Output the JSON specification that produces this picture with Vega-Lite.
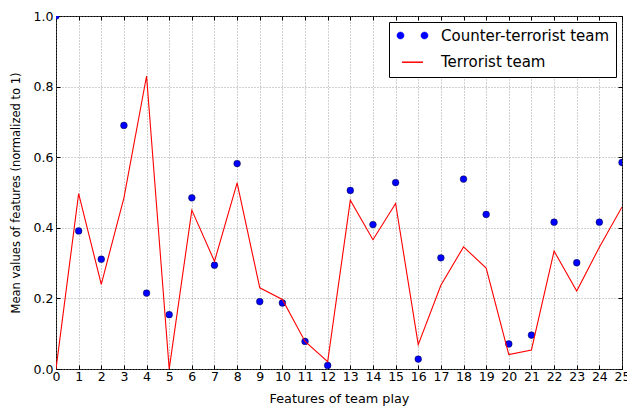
{
  "$schema": "https://vega.github.io/schema/vega-lite/v6.json",
  "autosize": "none",
  "width": 566,
  "height": 353,
  "padding": {"left": 56, "top": 16, "right": 5, "bottom": 37},
  "background": "white",
  "config": {
    "font": "DejaVu Sans",
    "view": {"stroke": "black", "strokeWidth": 1},
    "axis": {"domain": false, "labelColor": "black", "titleColor": "black", "titleFontWeight": "normal"},
    "legend": {
      "title": null, "orient": "top-right", "offset": 6,
      "strokeColor": "black", "fillColor": "white", "cornerRadius": 0,
      "padding": 6, "symbolSize": 144, "symbolOffset": 10, "labelOffset": 21,
      "labelFontSize": 15, "labelColor": "black", "rowPadding": 10.7, "labelLimit": 400,
      "labelExpr": "datum.label + '\u00a0\u00a0'"
    }
  },
  "data": {
    "values": [
      {"x": 0, "value": 1.0, "team": "Counter-terrorist team"},
      {"x": 1, "value": 0.391, "team": "Counter-terrorist team"},
      {"x": 2, "value": 0.311, "team": "Counter-terrorist team"},
      {"x": 3, "value": 0.690, "team": "Counter-terrorist team"},
      {"x": 4, "value": 0.215, "team": "Counter-terrorist team"},
      {"x": 5, "value": 0.154, "team": "Counter-terrorist team"},
      {"x": 6, "value": 0.485, "team": "Counter-terrorist team"},
      {"x": 7, "value": 0.294, "team": "Counter-terrorist team"},
      {"x": 8, "value": 0.582, "team": "Counter-terrorist team"},
      {"x": 9, "value": 0.191, "team": "Counter-terrorist team"},
      {"x": 10, "value": 0.187, "team": "Counter-terrorist team"},
      {"x": 11, "value": 0.078, "team": "Counter-terrorist team"},
      {"x": 12, "value": 0.010, "team": "Counter-terrorist team"},
      {"x": 13, "value": 0.506, "team": "Counter-terrorist team"},
      {"x": 14, "value": 0.409, "team": "Counter-terrorist team"},
      {"x": 15, "value": 0.528, "team": "Counter-terrorist team"},
      {"x": 16, "value": 0.028, "team": "Counter-terrorist team"},
      {"x": 17, "value": 0.315, "team": "Counter-terrorist team"},
      {"x": 18, "value": 0.538, "team": "Counter-terrorist team"},
      {"x": 19, "value": 0.438, "team": "Counter-terrorist team"},
      {"x": 20, "value": 0.071, "team": "Counter-terrorist team"},
      {"x": 21, "value": 0.096, "team": "Counter-terrorist team"},
      {"x": 22, "value": 0.416, "team": "Counter-terrorist team"},
      {"x": 23, "value": 0.301, "team": "Counter-terrorist team"},
      {"x": 24, "value": 0.416, "team": "Counter-terrorist team"},
      {"x": 25, "value": 0.585, "team": "Counter-terrorist team"},
      {"x": 0, "value": 0.0, "team": "Terrorist team"},
      {"x": 1, "value": 0.497, "team": "Terrorist team"},
      {"x": 2, "value": 0.240, "team": "Terrorist team"},
      {"x": 3, "value": 0.485, "team": "Terrorist team"},
      {"x": 4, "value": 0.830, "team": "Terrorist team"},
      {"x": 5, "value": 0.0, "team": "Terrorist team"},
      {"x": 6, "value": 0.450, "team": "Terrorist team"},
      {"x": 7, "value": 0.305, "team": "Terrorist team"},
      {"x": 8, "value": 0.527, "team": "Terrorist team"},
      {"x": 9, "value": 0.230, "team": "Terrorist team"},
      {"x": 10, "value": 0.197, "team": "Terrorist team"},
      {"x": 11, "value": 0.078, "team": "Terrorist team"},
      {"x": 12, "value": 0.021, "team": "Terrorist team"},
      {"x": 13, "value": 0.478, "team": "Terrorist team"},
      {"x": 14, "value": 0.366, "team": "Terrorist team"},
      {"x": 15, "value": 0.469, "team": "Terrorist team"},
      {"x": 16, "value": 0.069, "team": "Terrorist team"},
      {"x": 17, "value": 0.237, "team": "Terrorist team"},
      {"x": 18, "value": 0.346, "team": "Terrorist team"},
      {"x": 19, "value": 0.286, "team": "Terrorist team"},
      {"x": 20, "value": 0.041, "team": "Terrorist team"},
      {"x": 21, "value": 0.054, "team": "Terrorist team"},
      {"x": 22, "value": 0.334, "team": "Terrorist team"},
      {"x": 23, "value": 0.221, "team": "Terrorist team"},
      {"x": 24, "value": 0.345, "team": "Terrorist team"},
      {"x": 25, "value": 0.459, "team": "Terrorist team"}
    ]
  },
  "resolve": {"axis": {"x": "independent", "y": "independent"}},
  "layer": [
    {
      "transform": [{"filter": "datum.team === 'Counter-terrorist team'"}],
      "mark": {"type": "point", "filled": true, "size": 46, "clip": true, "opacity": 1, "stroke": "black", "strokeWidth": 0.4},
      "encoding": {
        "x": {
          "field": "x", "type": "quantitative",
          "scale": {"domain": [0, 25], "nice": false, "zero": false},
          "axis": {
            "orient": "bottom", "title": "Features of team play", "values": [0,1,2,3,4,5,6,7,8,9,10,11,12,13,14,15,16,17,18,19,20,21,22,23,24,25],
            "format": "d", "labelFontSize": 12.5, "labelPadding": 5, "tickSize": -4, "tickColor": "black",
            "grid": true, "gridColor": "#888888", "gridDash": [1, 2], "gridWidth": 0.8,
            "titleFontSize": 12.8, "titlePadding": 10, "labelFlush": false
          }
        },
        "y": {
          "field": "value", "type": "quantitative",
          "scale": {"domain": [0, 1], "nice": false},
          "axis": {
            "orient": "left", "title": "Mean values of features (normalized to 1)", "values": [0, 0.2, 0.4, 0.6, 0.8, 1.0],
            "format": ".1f", "labelFontSize": 12.5, "labelPadding": 7, "tickSize": -4, "tickColor": "black",
            "grid": true, "gridColor": "#888888", "gridDash": [1, 2], "gridWidth": 0.8,
            "titleFontSize": 11.5, "titlePadding": 12, "labelFlush": false
          }
        },
        "color": {
          "field": "team", "type": "nominal",
          "scale": {"domain": ["Counter-terrorist team", "Terrorist team"], "range": ["#0000ff", "#ff0000"]},
          "legend": {
            "encode": {
              "symbols": {
                "update": {
                  "shape": {"signal": "datum.value === 'Terrorist team' ? 'M-1.75,0L1.75,0' : 'M-2.6,0A0.6,0.6,0,1,0,-1.4,0A0.6,0.6,0,1,0,-2.6,0Z M1.4,0A0.6,0.6,0,1,0,2.6,0A0.6,0.6,0,1,0,1.4,0Z'"},
                  "fill": {"signal": "datum.value === 'Terrorist team' ? 'transparent' : '#0000ff'"},
                  "stroke": {"signal": "datum.value === 'Terrorist team' ? '#ff0000' : 'black'"},
                  "strokeWidth": {"signal": "datum.value === 'Terrorist team' ? 1.5 : 0.4"},
                  "opacity": {"value": 1}
                }
              }
            }
          }
        }
      }
    },
    {
      "transform": [{"filter": "datum.team === 'Terrorist team'"}],
      "mark": {"type": "line", "strokeWidth": 1.1, "clip": true},
      "encoding": {
        "x": {
          "field": "x", "type": "quantitative",
          "scale": {"domain": [0, 25], "nice": false, "zero": false},
          "axis": {"orient": "top", "title": null, "labels": false, "values": [0,1,2,3,4,5,6,7,8,9,10,11,12,13,14,15,16,17,18,19,20,21,22,23,24,25], "tickSize": -4, "tickColor": "black", "grid": false}
        },
        "y": {
          "field": "value", "type": "quantitative",
          "scale": {"domain": [0, 1], "nice": false},
          "axis": {"orient": "right", "title": null, "labels": false, "values": [0, 0.2, 0.4, 0.6, 0.8, 1.0], "tickSize": -4, "tickColor": "black", "grid": false}
        },
        "color": {
          "field": "team", "type": "nominal",
          "legend": {
            "encode": {
              "symbols": {
                "update": {
                  "shape": {"signal": "datum.value === 'Terrorist team' ? 'M-1.75,0L1.75,0' : 'M-2.6,0A0.6,0.6,0,1,0,-1.4,0A0.6,0.6,0,1,0,-2.6,0Z M1.4,0A0.6,0.6,0,1,0,2.6,0A0.6,0.6,0,1,0,1.4,0Z'"},
                  "fill": {"signal": "datum.value === 'Terrorist team' ? 'transparent' : '#0000ff'"},
                  "stroke": {"signal": "datum.value === 'Terrorist team' ? '#ff0000' : 'black'"},
                  "strokeWidth": {"signal": "datum.value === 'Terrorist team' ? 1.5 : 0.4"},
                  "opacity": {"value": 1}
                }
              }
            }
          }
        }
      }
    }
  ]
}
